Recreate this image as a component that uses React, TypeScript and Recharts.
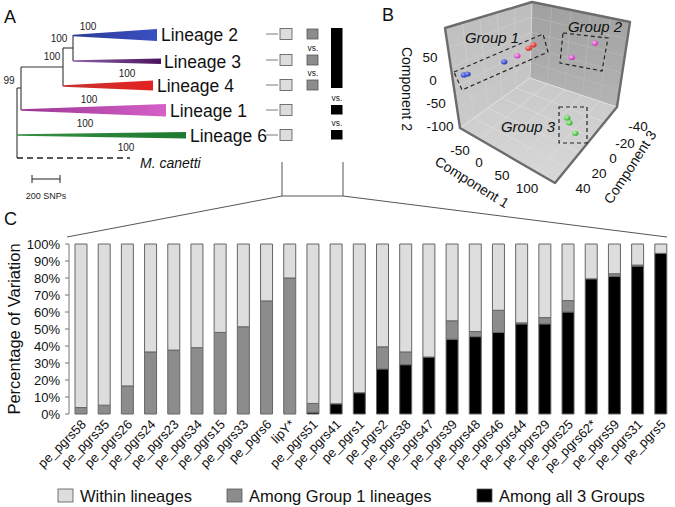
import React from 'react';
import { BarChart, Bar, XAxis, YAxis } from 'recharts';

const FONT = "'Liberation Sans', Arial, Helvetica, sans-serif";

// ---------- Panel C data ----------
const genes = [
  'pe_pgrs58', 'pe_pgrs35', 'pe_pgrs26', 'pe_pgrs24', 'pe_pgrs23', 'pe_pgrs34', 'pe_pgrs15',
  'pe_pgrs33', 'pe_pgrs6', 'lipY*', 'pe_pgrs51', 'pe_pgrs41', 'pe_pgrs1', 'pe_pgrs2',
  'pe_pgrs38', 'pe_pgrs47', 'pe_pgrs39', 'pe_pgrs48', 'pe_pgrs46', 'pe_pgrs44', 'pe_pgrs29',
  'pe_pgrs25', 'pe_pgrs62*', 'pe_pgrs59', 'pe_pgrs31', 'pe_pgrs5',
];
const amongAll3 = [0, 0, 0, 0, 0, 0, 0, 0, 0, 0, 1, 6, 12.5, 26.5, 29, 33.5, 44, 45.5, 48, 53, 53, 60, 79.5, 81, 87, 94.5];
const amongGroup1 = [3.8, 5.2, 16.5, 36.5, 37.6, 39, 48, 51.3, 66.5, 80, 5.2, 0, 0, 13, 7.5, 0, 10.8, 3, 13, 0.6, 3.7, 6.7, 0, 1.5, 0.6, 0];
const yTicks = [0, 10, 20, 30, 40, 50, 60, 70, 80, 90, 100];
const seriesNames = ['Within lineages', 'Among Group 1 lineages', 'Among all 3 Groups'];
const seriesColors = ['#dddddd', '#8c8c8c', '#000000'];

const data = genes.map((g, i) => ({
  gene: g,
  all3: amongAll3[i],
  group1: amongGroup1[i],
  within: Math.max(0, 100 - amongAll3[i] - amongGroup1[i]),
}));
const boundaryTicks = genes.map((_, i) => i).concat([genes.length]);

// ---------- Panel B data (PCA, component units) ----------
const pcaC1 = [-77, -75, -75, -75, -75, -75, 1, 56, 35, 40, 54];
const pcaC2 = [7, 8, 7, 10, 18, 22, 31, 92, -68, -76, -91];
const pcaC3 = [40, 37, -2, -16, -28, -33, -40, -40, -20, -20, -20];
const pcaColor = ['blue', 'blue', 'blue', 'magenta', 'red', 'red', 'magenta', 'magenta', 'green', 'green', 'green'];
const ballColors: Record<string, [string, string]> = {
  blue: ['#9aa6ff', '#2030b0'],
  magenta: ['#ffb0f4', '#c42eb4'],
  red: ['#ffa0a0', '#d01c1c'],
  green: ['#b8ffb0', '#2ca82c'],
};
const c1Ticks = [-50, 0, 50, 100];
const c2Ticks = [50, 0, -50, -100];
const c3Ticks = [-40, -20, 0, 20, 40];

const project = (c1: number, c2: number, c3: number): [number, number] => [
  533.8 + 0.42 * c1 - 0.94 * c3,
  84.4 + 0.25 * c1 - 0.46 * c2 + 0.325 * c3,
];

const GeneTick = (props: any) => {
  const { x, y, payload } = props;
  return (
    <g transform={`translate(${x + 3},${y + 8})`}>
      <text x={0} y={0} dy="0.35em" textAnchor="end" transform="rotate(-45)" fontSize={13} fill="#111" fontFamily={FONT}>
        {payload.value}
      </text>
    </g>
  );
};

const EmptyTick = () => <g />;

const lerp = (a: [number, number], b: [number, number], t: number): [number, number] => [a[0] + (b[0] - a[0]) * t, a[1] + (b[1] - a[1]) * t];

const Wedge = ({ x0, y, x1, top, bot, id }: any) => (
  <polygon points={`${x0},${y - 0.8} ${x1},${top} ${x1},${bot} ${x0},${y + 0.8}`} fill={`url(#${id})`} />
);

export default function App() {
  const LT: [number, number] = [445, 28];
  const T: [number, number] = [532, 2];
  const RT: [number, number] = [630, 22];
  const RB: [number, number] = [617, 107];
  const F: [number, number] = [555, 183];
  const LB: [number, number] = [460, 128];
  const K: [number, number] = [530, 78];
  const pt = (p: [number, number]) => `${p[0]},${p[1]}`;
  const fr = [0.2, 0.4, 0.6, 0.8];

  const treeStroke = '#333';
  const rows = [34, 60, 85, 110, 135];

  return (
    <div style={{ position: 'absolute', left: 0, top: 0, width: 675, height: 507, background: '#fff', fontFamily: FONT }}>
      <div style={{ position: 'absolute', left: 0, top: 0 }}>
        <BarChart width={675} height={507} data={data} margin={{ top: 244, right: 3, bottom: 33, left: 0 }}>
          <XAxis
            xAxisId={0}
            type="number"
            domain={[0, genes.length]}
            ticks={boundaryTicks}
            interval={0}
            tick={<EmptyTick />}
            tickSize={4}
            height={0}
            allowDataOverflow
            axisLine={{ stroke: '#555' }}
            tickLine={{ stroke: '#555' }}
          />
          <XAxis
            xAxisId={1}
            dataKey="gene"
            interval={0}
            height={60}
            tickSize={0}
            tickMargin={0}
            axisLine={false}
            tickLine={false}
            tick={<GeneTick />}
          />
          <YAxis
            domain={[0, 100]}
            ticks={yTicks}
            interval={0}
            width={69}
            tickSize={4}
            tickMargin={5}
            tickFormatter={(v: number) => `${v}%`}
            tick={{ fontSize: 13, fill: '#111', fontFamily: FONT }}
            axisLine={{ stroke: '#777' }}
            tickLine={{ stroke: '#777' }}
          />
          <Bar xAxisId={1} dataKey="all3" stackId="s" fill={seriesColors[2]} stroke="#666" strokeWidth={1} barSize={12} isAnimationActive={false} />
          <Bar xAxisId={1} dataKey="group1" stackId="s" fill={seriesColors[1]} stroke="#666" strokeWidth={1} barSize={12} isAnimationActive={false} />
          <Bar xAxisId={1} dataKey="within" stackId="s" fill={seriesColors[0]} stroke="#666" strokeWidth={1} barSize={12} isAnimationActive={false} />
        </BarChart>
      </div>

      <svg width={675} height={507} style={{ position: 'absolute', left: 0, top: 0, pointerEvents: 'none' }} fontFamily={FONT}>
        <defs>
          <linearGradient id="gL2" x1="0" x2="1" y1="0" y2="0"><stop offset="0" stopColor="#2c3c96" /><stop offset="1" stopColor="#3a4fc2" /></linearGradient>
          <linearGradient id="gL3" x1="0" x2="1" y1="0" y2="0"><stop offset="0" stopColor="#8d62a6" /><stop offset="1" stopColor="#4a145e" /></linearGradient>
          <linearGradient id="gL4" x1="0" x2="1" y1="0" y2="0"><stop offset="0" stopColor="#c93030" /><stop offset="1" stopColor="#e32222" /></linearGradient>
          <linearGradient id="gL1" x1="0" x2="1" y1="0" y2="0"><stop offset="0" stopColor="#9c3594" /><stop offset="1" stopColor="#d660c8" /></linearGradient>
          <linearGradient id="gL6" x1="0" x2="1" y1="0" y2="0"><stop offset="0" stopColor="#358f43" /><stop offset="1" stopColor="#1d7a2e" /></linearGradient>
          <linearGradient id="gLeft" x1="0" x2="0" y1="0" y2="1"><stop offset="0" stopColor="#bdbdbd" /><stop offset="1" stopColor="#cbcbcb" /></linearGradient>
          <linearGradient id="gRight" x1="0" x2="0" y1="0" y2="1"><stop offset="0" stopColor="#a0a0a0" /><stop offset="1" stopColor="#b4b4b4" /></linearGradient>
          <linearGradient id="gFloor" x1="0" x2="0" y1="0" y2="1"><stop offset="0" stopColor="#c8c8c8" /><stop offset="1" stopColor="#d8d8d8" /></linearGradient>
          {Object.keys(ballColors).map((k) => (
            <radialGradient key={k} id={`ball-${k}`} cx="0.35" cy="0.35" r="0.7">
              <stop offset="0" stopColor={ballColors[k][0]} />
              <stop offset="1" stopColor={ballColors[k][1]} />
            </radialGradient>
          ))}
        </defs>

        {/* ---------- Panel A ---------- */}
        <text x={4} y={23} fontSize={18} fill="#111">A</text>
        <g stroke={treeStroke} strokeWidth={1.1} fill="none">
          <line x1={17} y1={88} x2={17} y2={158} />
          <line x1={17} y1={88} x2={21} y2={88} />
          <line x1={21} y1={67} x2={21} y2={110} />
          <line x1={21} y1={67} x2={63} y2={67} />
          <line x1={63} y1={48} x2={63} y2={86} />
          <line x1={63} y1={48} x2={73} y2={48} />
          <line x1={73} y1={35} x2={73} y2={61} />
          <line x1={17} y1={158} x2={130} y2={158} strokeDasharray="6 4" strokeWidth={1.6} stroke="#222" />
          <line x1={32} y1={179} x2={60} y2={179} />
          <line x1={32} y1={175} x2={32} y2={183} />
          <line x1={60} y1={175} x2={60} y2={183} />
        </g>
        <Wedge id="gL2" x0={73} y={35.5} x1={157} top={29} bot={41} />
        <Wedge id="gL3" x0={73} y={61} x1={161} top={58.5} bot={64} />
        <Wedge id="gL4" x0={63} y={86} x1={153} top={80.5} bot={90.5} />
        <Wedge id="gL1" x0={21} y={110} x1={166} top={104} bot={116.5} />
        <Wedge id="gL6" x0={17} y={135} x1={186} top={132} bot={138.5} />
        <g fontSize={10} fill="#222" textAnchor="middle" dominantBaseline="central">
          <text x={88} y={26}>100</text>
          <text x={59} y={38}>100</text>
          <text x={52} y={56}>100</text>
          <text x={127} y={73}>100</text>
          <text x={89} y={99}>100</text>
          <text x={85} y={123}>100</text>
          <text x={126} y={147}>100</text>
          <text x={9} y={80}>99</text>
        </g>
        <g fontSize={17.5} fill="#111" dominantBaseline="central">
          <text x={161} y={35}>Lineage 2</text>
          <text x={164} y={62}>Lineage 3</text>
          <text x={157} y={86}>Lineage 4</text>
          <text x={170} y={111}>Lineage 1</text>
          <text x={190} y={136}>Lineage 6</text>
        </g>
        <text x={140} y={163} fontSize={14} fontStyle="italic" fill="#111" dominantBaseline="central">M. canetti</text>
        <text x={46} y={196} fontSize={9} fill="#222" textAnchor="middle" dominantBaseline="central">200 SNPs</text>

        {/* comparison boxes */}
        <g stroke="#555" strokeWidth={0.8}>
          {rows.map((r, i) => (
            <g key={i}>
              <line x1={266} y1={r} x2={278} y2={r} />
              <rect x={280} y={r - 5.5} width={12} height={11} fill={seriesColors[0]} />
            </g>
          ))}
          {rows.slice(0, 3).map((r, i) => (
            <rect key={i} x={307} y={r - 5} width={11} height={10} fill={seriesColors[1]} />
          ))}
          <rect x={331} y={28} width={11.5} height={60} fill="#000" stroke="none" />
          <rect x={331} y={105} width={11.5} height={9.5} fill="#000" stroke="none" />
          <rect x={331} y={130} width={11.5} height={9.5} fill="#000" stroke="none" />
        </g>
        <g fontSize={8.5} fill="#222" textAnchor="middle" dominantBaseline="central">
          <text x={313} y={48}>vs.</text>
          <text x={313} y={73}>vs.</text>
          <text x={337} y={98}>vs.</text>
          <text x={337} y={123}>vs.</text>
        </g>
        <g stroke="#555" strokeWidth={1} fill="none">
          <polyline points="282,162 282,196 343,196 343,162" />
          <line x1={282} y1={196} x2={67} y2={237} />
          <line x1={343} y1={196} x2={667} y2={237} />
        </g>

        {/* ---------- Panel B ---------- */}
        <text x={382} y={21} fontSize={18} fill="#111">B</text>
        <polygon points={`${pt(LT)} ${pt(T)} ${pt(K)} ${pt(LB)}`} fill="url(#gLeft)" />
        <polygon points={`${pt(T)} ${pt(RT)} ${pt(RB)} ${pt(K)}`} fill="url(#gRight)" />
        <polygon points={`${pt(LB)} ${pt(K)} ${pt(RB)} ${pt(F)}`} fill="url(#gFloor)" />
        <g strokeWidth={0.6} fill="none">
          {fr.map((t, i) => {
            const a = lerp(LT, T, t), b = lerp(LB, K, t);
            const c = lerp(LT, LB, t), d = lerp(T, K, t);
            return (
              <g key={`l${i}`} stroke="#d2d2d2">
                <line x1={a[0]} y1={a[1]} x2={b[0]} y2={b[1]} />
                <line x1={c[0]} y1={c[1]} x2={d[0]} y2={d[1]} />
              </g>
            );
          })}
          {fr.map((t, i) => {
            const a = lerp(T, RT, t), b = lerp(K, RB, t);
            const c = lerp(T, K, t), d = lerp(RT, RB, t);
            return (
              <g key={`r${i}`} stroke="#bcbcbc">
                <line x1={a[0]} y1={a[1]} x2={b[0]} y2={b[1]} />
                <line x1={c[0]} y1={c[1]} x2={d[0]} y2={d[1]} />
              </g>
            );
          })}
          {fr.map((t, i) => {
            const a = lerp(LB, K, t), b = lerp(F, RB, t);
            const c = lerp(LB, F, t), d = lerp(K, RB, t);
            return (
              <g key={`f${i}`} stroke="#e0e0e0">
                <line x1={a[0]} y1={a[1]} x2={b[0]} y2={b[1]} />
                <line x1={c[0]} y1={c[1]} x2={d[0]} y2={d[1]} />
              </g>
            );
          })}
          <polyline points={`${pt(LB)} ${pt(K)} ${pt(RB)}`} stroke="#e4e4e4" strokeWidth={0.8} />
          <line x1={T[0]} y1={T[1]} x2={K[0]} y2={K[1]} stroke="#dadada" strokeWidth={0.8} />
        </g>
        <polygon points={`${pt(LT)} ${pt(T)} ${pt(RT)} ${pt(RB)} ${pt(F)} ${pt(LB)}`} fill="none" stroke="#6c6c6c" strokeWidth={2.4} strokeLinejoin="round" />
        {pcaC1.map((c1, i) => {
          const [x, y] = project(c1, pcaC2[i], pcaC3[i]);
          return <ellipse key={i} cx={x} cy={y} rx={3.2} ry={2.6} fill={`url(#ball-${pcaColor[i]})`} />;
        })}
        <g fill="none" stroke="#222" strokeWidth={1.2} strokeDasharray="4 3">
          <polygon points="454,72 543,34 548,52 462,90" />
          <polygon points="563,33 608,38 602,71 560,63" />
          <polygon points="559,107 587,107 587,143 559,143" />
        </g>
        <g fontSize={15} fontStyle="italic" fill="#111" textAnchor="middle" dominantBaseline="central">
          <text x={492} y={37}>Group 1</text>
          <text x={595} y={26}>Group 2</text>
          <text x={528} y={126}>Group 3</text>
        </g>
        <g fontSize={13.5} fill="#111" textAnchor="middle" dominantBaseline="central">
          {c2Ticks.map((v, i) => (
            <text key={v} x={[430, 433, 436, 440][i]} y={57 + i * 23}>{v}</text>
          ))}
          {c1Ticks.map((v, i) => (
            <text key={v} x={[460, 479, 502, 527][i]} y={[150, 162, 175, 188][i]}>{v}</text>
          ))}
          {c3Ticks.map((v, i) => (
            <text key={v} x={[638, 625, 613, 599, 583][i]} y={[126, 143, 158, 173, 188][i]}>{v}</text>
          ))}
        </g>
        <g fontSize={14} fill="#111" textAnchor="middle" dominantBaseline="central">
          <text transform="translate(407,89) rotate(90)">Component 2</text>
          <text transform="translate(472,182) rotate(32)">Component 1</text>
          <text transform="translate(630,167) rotate(-57)">Component 3</text>
        </g>

        {/* ---------- Panel C annotations ---------- */}
        <text x={4} y={225} fontSize={18} fill="#111">C</text>
        <text transform="translate(14,329) rotate(-90)" fontSize={16.5} fill="#111" textAnchor="middle" dominantBaseline="central">
          Percentage of Variation
        </text>
        {seriesNames.map((name, i) => {
          const sx = [58, 227, 477][i];
          return (
            <g key={name}>
              <rect x={sx} y={489} width={15} height={13} fill={seriesColors[i]} stroke="#555" strokeWidth={0.8} />
              <text x={sx + 22} y={496} fontSize={16.5} fill="#111" dominantBaseline="central">{name}</text>
            </g>
          );
        })}
      </svg>
    </div>
  );
}
